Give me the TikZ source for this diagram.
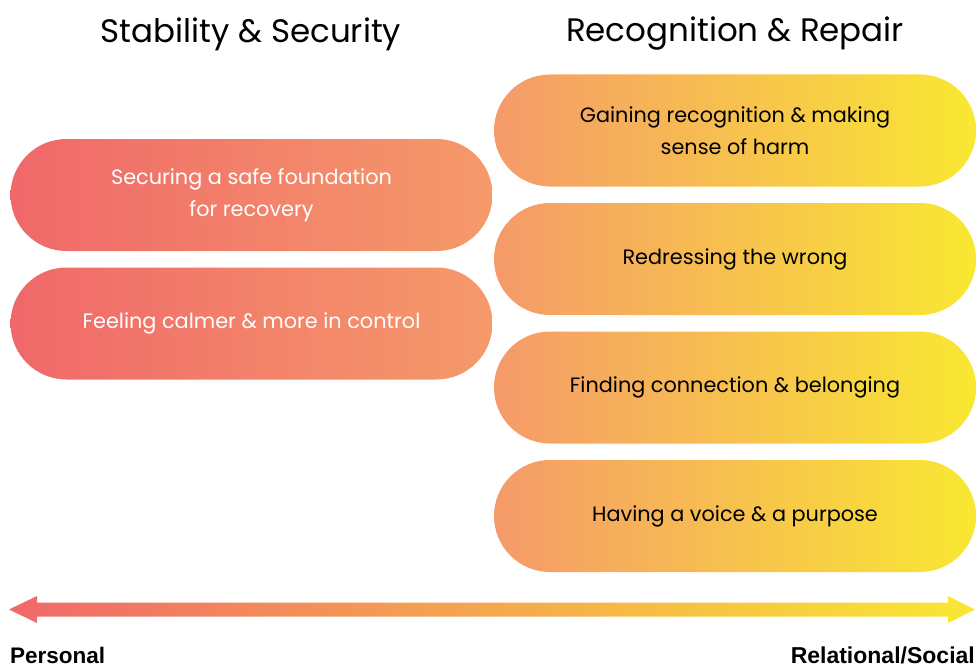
\documentclass[tikz,border=0pt]{standalone}
\usepackage{fontspec}
\setmainfont{Poppins}
\newfontfamily\labelfont{Liberation Sans}
\usetikzlibrary{shapes.misc}
\definecolor{warmred}{RGB}{240,104,106}
\definecolor{warmpeach}{RGB}{245,154,106}
\definecolor{warmyellow}{RGB}{249,232,50}
\begin{document}
\begin{tikzpicture}[x=1pt,y=-1pt,
	pill/.style={rounded rectangle,minimum width=482pt,minimum height=112pt,inner sep=0pt,align=center,font=\fontsize{20.8}{32}\selectfont},
	leftpill/.style={pill,left color=warmred,right color=warmpeach,text=white},
	rightpill/.style={pill,left color=warmpeach,right color=warmyellow,text=black}]
	\useasboundingbox (0,0) rectangle (976,666);
	\node[font=\fontsize{32.5}{36}\selectfont] (stab) at (251,34){Stability \& Security};
	\node[font=\fontsize{32.5}{36}\selectfont] (recog) at (735,34){Recognition \& Repair};
	\node[leftpill] (safe) at (251.5,195){Securing a safe foundation\\for recovery};
	\node[leftpill] (calm) at (251.5,323.5){Feeling calmer \& more in control};
	\node[rightpill] (sense) at (735,130.5){Gaining recognition \& making\\sense of harm};
	\node[rightpill] (redress) at (735,259){Redressing the wrong};
	\node[rightpill] (belong) at (735,387.5){Finding connection \& belonging};
	\node[rightpill] (voice) at (735,516){Having a voice \& a purpose};
	\coordinate (pers) at (9,609.5);
	\coordinate (soc) at (975,609.5);
	\shade[left color=warmred,right color=warmyellow] (pers)--(37,596)--(37,602.5)--(948,602.5)--(948,596)--(soc)--(948,623)--(948,616.5)--(37,616.5)--(37,623)--cycle;
	\node[anchor=base west,inner sep=0pt,font=\labelfont\bfseries\fontsize{22.5}{24}\selectfont] (perslab) at (10,663){Personal};
	\node[anchor=base east,inner sep=0pt,font=\labelfont\bfseries\fontsize{23}{24}\selectfont] (soclab) at (975,663){Relational/Social};
\end{tikzpicture}
\end{document}
